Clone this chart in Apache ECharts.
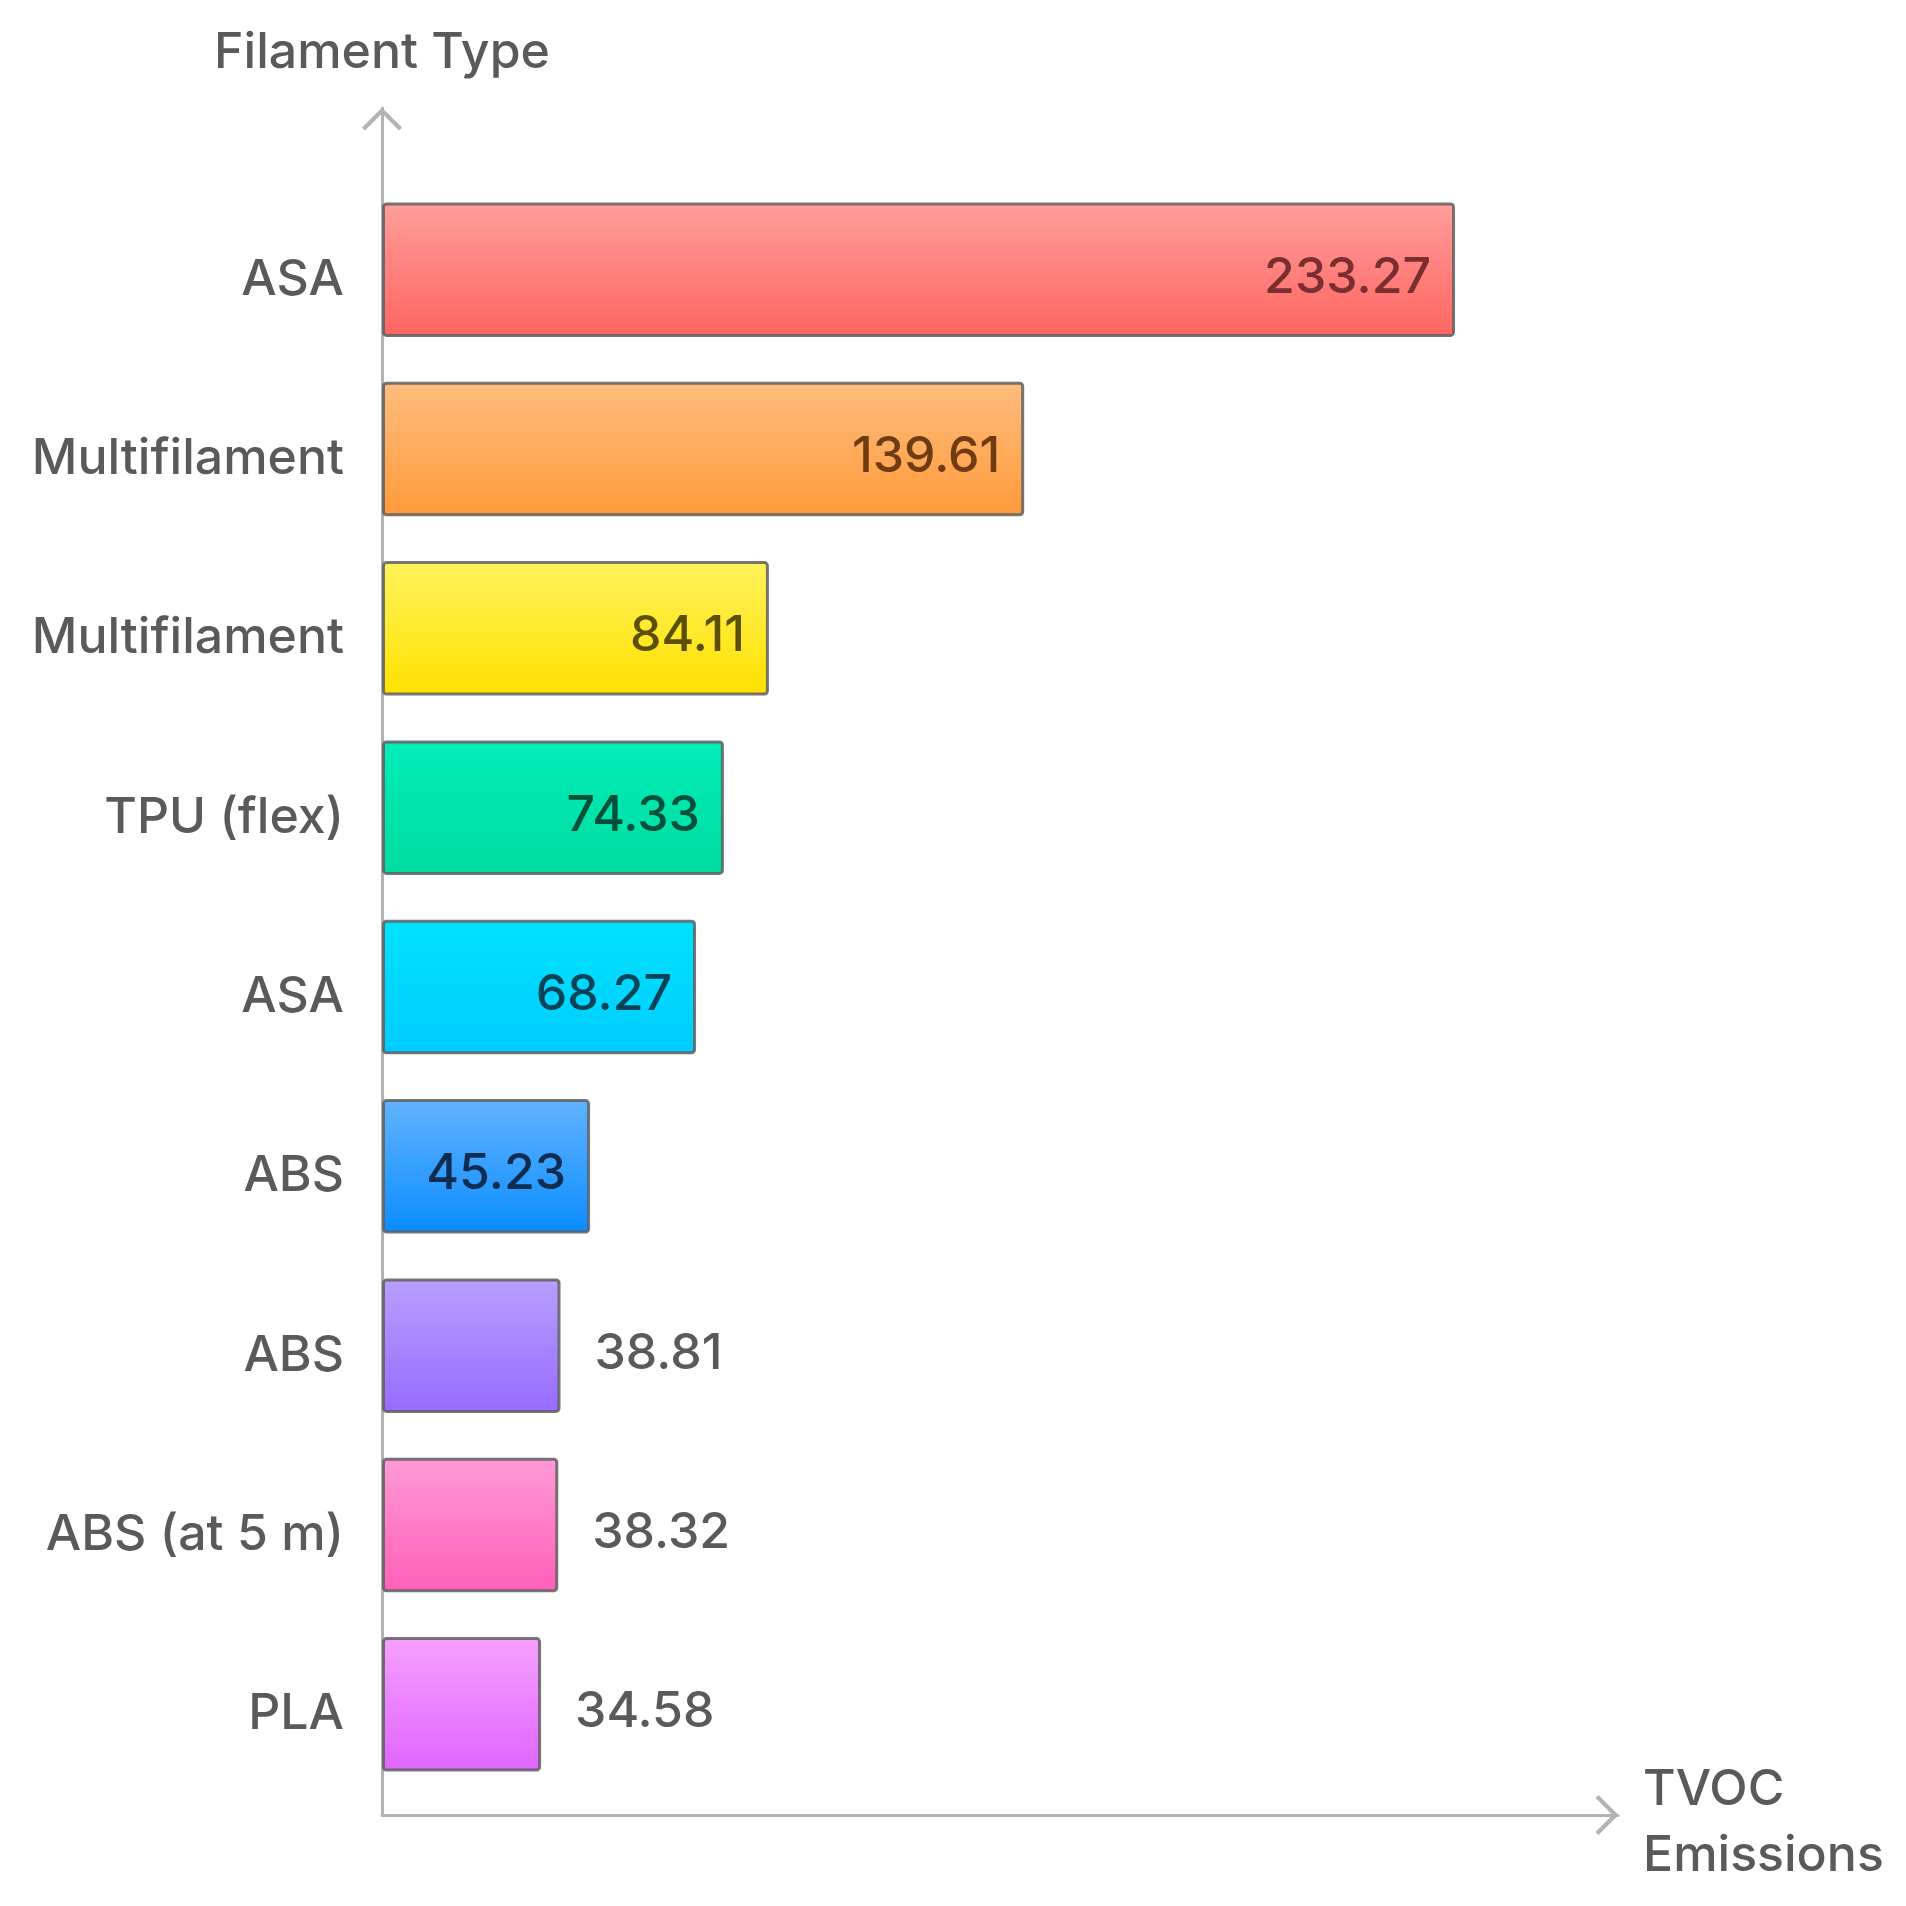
<!DOCTYPE html>
<html>
<head>
<meta charset="utf-8">
<script src="https://cdn.jsdelivr.net/npm/echarts@6/dist/echarts.min.js"></script>
<style>html,body{margin:0;padding:0;background:#fff;}#c{width:1906px;height:1906px;}</style>
</head>
<body>
<div id="c"></div>
<script>
const categories = ['ASA', 'Multifilament', 'Multifilament', 'TPU (flex)', 'ASA', 'ABS', 'ABS', 'ABS (at 5 m)', 'PLA'];
const values = [233.27, 139.61, 84.11, 74.33, 68.27, 45.23, 38.81, 38.32, 34.58];
const xAxisName = 'TVOC\nEmissions';
const yAxisName = 'Filament Type';

const gradTop = ['#FF9E9B', '#FFBD7E', '#FFF35C', '#00EDB8', '#00E2FF', '#62B3FF', '#B8A0FF', '#FF9AD6', '#F6A0FF'];
const gradBottom = ['#FF6561', '#FF9A3A', '#FFE000', '#00DCA0', '#00CCFF', '#0A8DFF', '#966BFF', '#FF5FB8', '#E064FF'];
const insideLabelColor = ['#7A2E2E', '#6E3B12', '#5C5000', '#004F38', '#004458', '#0E2C50', '#555', '#555', '#555'];

const FONT = 'Inter';
const FW = 500;
const FS = 50;
const TXT = '#5a5a5a';
const AX = '#b3b3b3';
const chevron = 'path://M20,0 L40,20 L37,23 L20,6 L3,23 L0,20 Z';

const data = values.map((v, i) => ({
  value: v,
  itemStyle: {
    color: new echarts.graphic.LinearGradient(0, 0, 0, 1, [
      { offset: 0, color: gradTop[i] },
      { offset: 1, color: gradBottom[i] }
    ])
  },
  label: v > 40
    ? { position: 'insideRight', distance: 24, color: insideLabelColor[i] }
    : { position: 'right', distance: 34, color: TXT }
}));

const chart = echarts.init(document.getElementById('c'));
chart.setOption({
  animation: false,
  backgroundColor: '#ffffff',
  grid: [
    { left: 382, right: 282, top: 180, bottom: 112 },
    { left: 382, right: 288, top: 108, bottom: 91 }
  ],
  xAxis: [
    {
      type: 'value', gridIndex: 0, min: 0, max: 270, offset: 29,
      name: xAxisName, nameLocation: 'end', nameGap: 19,
      nameTextStyle: { fontFamily: FONT, fontWeight: FW, fontSize: FS, color: TXT, align: 'left', lineHeight: 66 },
      axisLine: { show: false }, axisTick: { show: false }, axisLabel: { show: false }, splitLine: { show: false }
    },
    {
      type: 'value', gridIndex: 1, min: 0, max: 1,
      axisLine: { show: true, onZero: false, lineStyle: { color: AX, width: 3 },
        symbol: ['none', chevron], symbolSize: [40, 23], symbolOffset: [0, -11] },
      axisTick: { show: false }, axisLabel: { show: false }, splitLine: { show: false }
    }
  ],
  yAxis: [
    {
      type: 'category', gridIndex: 0, inverse: true, data: categories,
      axisLine: { show: false }, axisTick: { show: false },
      axisLabel: { fontFamily: FONT, fontWeight: FW, fontSize: FS, color: TXT, margin: 38, verticalAlign: 'top', lineHeight: 20 }
    },
    {
      type: 'value', gridIndex: 1, min: 0, max: 1,
      name: yAxisName, nameLocation: 'end', nameGap: 30,
      nameTextStyle: { fontFamily: FONT, fontWeight: FW, fontSize: FS, color: TXT },
      axisLine: { show: true, onZero: false, lineStyle: { color: AX, width: 3 },
        symbol: ['none', chevron], symbolSize: [40, 23], symbolOffset: [0, -11] },
      axisTick: { show: false }, axisLabel: { show: false }, splitLine: { show: false }
    }
  ],
  series: [{
    type: 'bar',
    xAxisIndex: 0, yAxisIndex: 0,
    barCategoryGap: '25%',
    data: data,
    itemStyle: { borderColor: 'rgba(95,95,95,0.85)', borderWidth: 3, borderRadius: 3 },
    label: { show: true, fontFamily: FONT, fontWeight: FW, fontSize: FS, offset: [0, 8], formatter: p => p.value.toFixed(2) }
  }]
});
</script>
</body>
</html>
